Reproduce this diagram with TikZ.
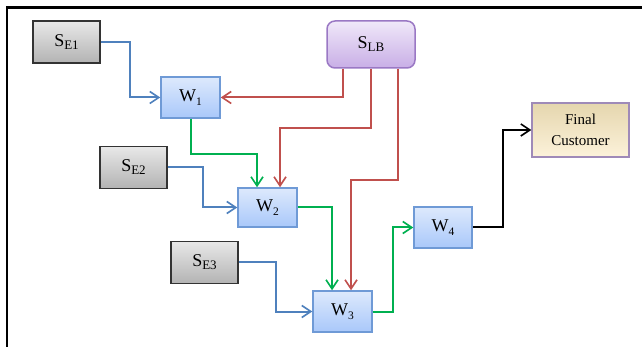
\documentclass[tikz,border=0pt]{standalone}
\usepackage{fontspec}
\setmainfont{Liberation Serif}
\usetikzlibrary{arrows.meta,positioning}
\definecolor{lblue}{HTML}{4F81BD}
\definecolor{lred}{HTML}{C0504D}
\definecolor{lgreen}{HTML}{00B050}
\definecolor{wtop}{HTML}{DDE9FC}
\definecolor{wbot}{HTML}{A9C8FA}
\definecolor{wdraw}{HTML}{6F9AD6}
\definecolor{stop}{HTML}{E8E8E8}
\definecolor{sbot}{HTML}{B3B3B3}
\definecolor{ptop}{HTML}{F0E8F9}
\definecolor{pbot}{HTML}{C8AEE6}
\definecolor{pdraw}{HTML}{9A78C4}
\definecolor{ftop}{HTML}{E5D6AE}
\definecolor{fbot}{HTML}{FCF2DA}
\definecolor{fdraw}{HTML}{9F8AB8}
\newcommand{\subtx}[1]{\raisebox{-3pt}{\fontsize{13}{13}\selectfont #1}}
\newcommand{\subnum}[1]{\raisebox{-4pt}{\fontsize{11.5}{11.5}\selectfont #1}}
\tikzset{
  x=1pt, y=-1pt,
  box/.style={inner sep=0pt, line width=1.5pt, font=\fontsize{18}{18}\selectfont},
  sebox/.style={box, draw=black!80, top color=stop, bottom color=sbot, minimum width=67pt, minimum height=42pt},
  wbox/.style={box, draw=wdraw, top color=wtop, bottom color=wbot, minimum width=59pt, minimum height=41pt},
  lbbox/.style={box, draw=pdraw, top color=ptop, bottom color=pbot, rounded corners=8pt, minimum width=88pt, minimum height=47pt},
  fcbox/.style={box, draw=fdraw, top color=ftop, bottom color=fbot, minimum width=97pt, minimum height=54pt, align=center, font=\fontsize{15}{21}\selectfont},
  conn/.style={line width=2pt, -{Straight Barb[length=9pt,width=12pt,line width=1.6pt]}},
  bl/.style={conn, draw=lblue},
  rd/.style={conn, draw=lred},
  gr/.style={conn, draw=lgreen},
  bk/.style={conn, draw=black},
}
\begin{document}
\begin{tikzpicture}
\useasboundingbox (0,0) rectangle (642,347);
% frame
\draw[line width=2.4pt] (7,347) -- (7,7.5) -- (642,7.5);

\node[sebox] (SE1) at (66.5,42) {S\subtx{E1}};
\node[sebox] (SE2) at (133.5,167.5) {S\subtx{E2}};
\node[sebox] (SE3) at (204.5,262.5) {S\subtx{E3}};
\node[wbox] (W1) at (190.5,97.5) {W\subnum{1}};
\node[wbox, minimum height=39pt] (W2) at (267.5,207.5) {W\subnum{2}};
\node[wbox] (W3) at (342.5,311.5) {W\subnum{3}};
\node[wbox, minimum width=58pt] (W4) at (443,227.5) {W\subnum{4}};
\node[lbbox] (SLB) at (371,44.5) {S\subtx{LB}};
\node[fcbox] (FC) at (580.5,130) {Final\\Customer};

% blue
\draw[bl] (SE1.east) -- ++(29,0) |- (W1.west);
\draw[bl] (SE2.east) -- ++(35,0) |- (W2.west);
\draw[bl] (SE3.east) -- ++(37,0) |- (W3.west);
% red
\draw[rd] ([xshift=17pt]SLB.south west) |- (W1.east);
\draw[rd] (SLB.south) -- ++(0,59) -| ([xshift=12.5pt]W2.north);
\draw[rd] ([xshift=-18pt]SLB.south east) -- ++(0,111) -| ([xshift=8.5pt]W3.north);
% green
\draw[gr] (W1.south) -- ++(0,35) -| ([xshift=-10.5pt]W2.north);
\draw[gr] (W2.east) -| ([xshift=-10.5pt]W3.north);
\draw[gr] (W3.east) -- ++(20,0) |- (W4.west);
% black
\draw[bk] (W4.east) -- ++(30,0) |- (FC.west);
\end{tikzpicture}
\end{document}
